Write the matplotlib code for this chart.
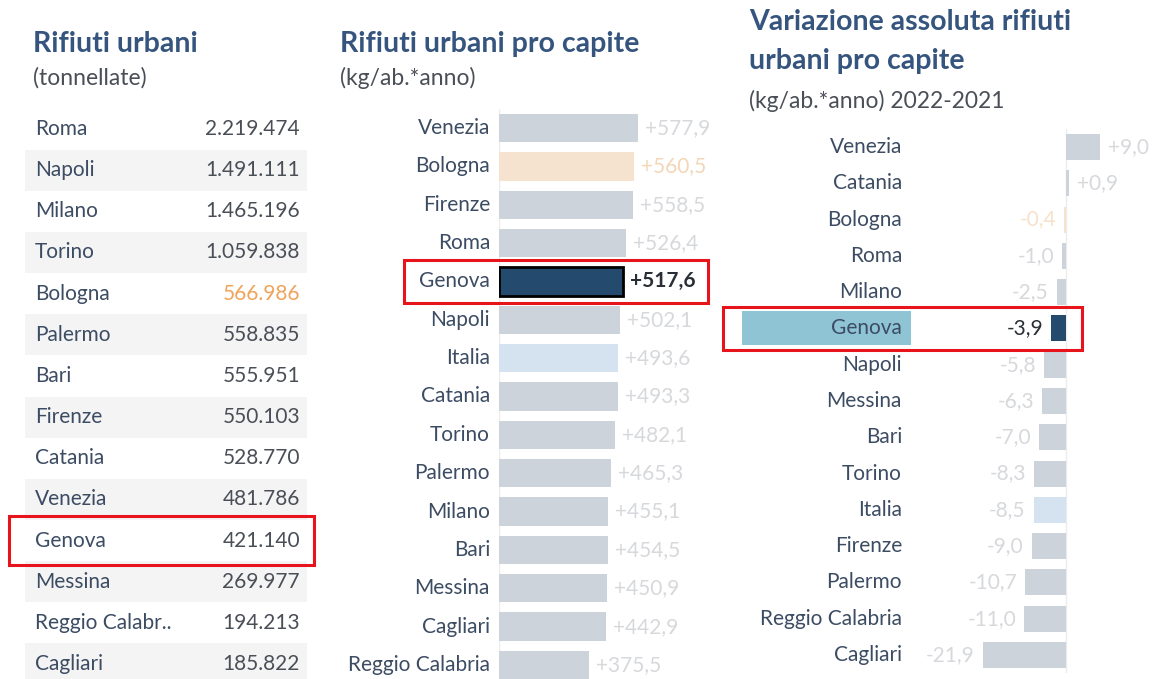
"""
Rifiuti urbani: tonnellate, pro capite e variazione 2022-2021 per citta'.
Three Tableau-like panels, Genova highlighted with a red box.
"""

import matplotlib
matplotlib.use("Agg")
import matplotlib.pyplot as plt
import matplotlib.transforms as mtransforms
from matplotlib.patches import Rectangle

plt.rcParams["font.family"] = ["Lato", "DejaVu Sans"]

W, H = 1152, 679

# panel 1 - tonnellate
CITIES_T = ["Roma", "Napoli", "Milano", "Torino", "Bologna", "Palermo", "Bari",
            "Firenze", "Catania", "Venezia", "Genova", "Messina",
            "Reggio Calabr..", "Cagliari"]
TONNES = [2219474, 1491111, 1465196, 1059838, 566986, 558835, 555951,
          550103, 528770, 481786, 421140, 269977, 194213, 185822]

# panel 2 - kg/ab.*anno
CITIES_PC = ["Venezia", "Bologna", "Firenze", "Roma", "Genova", "Napoli",
             "Italia", "Catania", "Torino", "Palermo", "Milano", "Bari",
             "Messina", "Cagliari", "Reggio Calabria"]
PRO_CAPITE = [577.9, 560.5, 558.5, 526.4, 517.6, 502.1, 493.6, 493.3,
              482.1, 465.3, 455.1, 454.5, 450.9, 442.9, 375.5]

# panel 3 - variazione assoluta 2022-2021
CITIES_VAR = ["Venezia", "Catania", "Bologna", "Roma", "Milano", "Genova",
              "Napoli", "Messina", "Bari", "Torino", "Italia", "Firenze",
              "Palermo", "Reggio Calabria", "Cagliari"]
VARIAZIONE = [9.0, 0.9, -0.4, -1.0, -2.5, -3.9, -5.8, -6.3, -7.0, -8.3,
              -8.5, -9.0, -10.7, -11.0, -21.9]

TITLE_C = "#36557e"
SUB_C = "#4a4f57"
NAME_C = "#3c4c63"
BAR_C = "#cdd3da"
VAL_C = "#d6d8db"
HL_NAVY = "#244a6e"
RED = "#e8141b"

FS_TITLE = 20.5
FS_SUB = 16.5
FS = 15


def px_axes(fig, x0, x1, y0, y1):
    """axes from pixel box (y measured from top)."""
    return fig.add_axes([x0 / W, 1 - y1 / H, (x1 - x0) / W, (y1 - y0) / H])


def fmt_thousands(v):
    return f"{v:,}".replace(",", ".")


def fmt_signed(v):
    return f"{v:+.1f}".replace(".", ",")


def bar_color(name):
    return {"Genova": HL_NAVY, "Bologna": "#f6e3cf", "Italia": "#d4e3ef"}.get(name, BAR_C)


def main():
    fig = plt.figure(figsize=(W / 100, H / 100), dpi=100)
    fig.patch.set_facecolor("white")

    # ---------- titles
    title_kw = dict(fontsize=FS_TITLE, fontweight="bold", color=TITLE_C, va="center")
    sub_kw = dict(fontsize=FS_SUB, color=SUB_C, va="center")
    fig.text(33 / W, 1 - 44 / H, "Rifiuti urbani", **title_kw)
    fig.text(33 / W, 1 - 78 / H, "(tonnellate)", **sub_kw)
    fig.text(340 / W, 1 - 44 / H, "Rifiuti urbani pro capite", **title_kw)
    fig.text(340 / W, 1 - 78 / H, "(kg/ab.*anno)", **sub_kw)
    fig.text(749 / W, 1 - 22 / H, "Variazione assoluta rifiuti", **title_kw)
    fig.text(749 / W, 1 - 61 / H, "urbani pro capite", **title_kw)
    fig.text(749 / W, 1 - 101 / H, "(kg/ab.*anno) 2022-2021", **sub_kw)

    # ---------- panel 1: table
    n1 = len(CITIES_T)
    ax1 = px_axes(fig, 25, 307, 108.4, 684.6)
    ax1.set_xlim(0, 1)
    ax1.set_ylim(n1 - 0.5, -0.5)
    ax1.set_axis_off()
    for i, (name, v) in enumerate(zip(CITIES_T, TONNES)):
        if i % 2 == 1:
            ax1.axhspan(i - 0.5, i + 0.5, color="#f4f4f4", lw=0, zorder=0)
        ax1.text(10 / 282, i, name, fontsize=FS, color=NAME_C, va="center", ha="left")
        vc = "#f0a35a" if name == "Bologna" else "#4a4f57"
        ax1.text(275 / 282, i, fmt_thousands(v), fontsize=FS, color=vc,
                 va="center", ha="right")
    gi = CITIES_T.index("Genova")
    tr1 = mtransforms.blended_transform_factory(fig.transFigure, ax1.transData)
    fig.add_artist(Rectangle((9 / W, gi - 0.6), 305 / W, 1.2, transform=tr1,
                             fill=False, ec=RED, lw=2.2))

    # ---------- panel 2: pro capite bars
    n2 = len(CITIES_PC)
    scale2 = 0.2405  # px per kg
    ax2 = px_axes(fig, 499, 720, 108.8, 684.2)
    ax2.set_xlim(0, 221 / scale2)
    ax2.set_ylim(n2 - 0.5, -0.5)
    ax2.set_axis_off()
    ax2.axvline(0, color="#ececec", lw=1, zorder=0)
    for i, (name, v) in enumerate(zip(CITIES_PC, PRO_CAPITE)):
        hl = name == "Genova"
        ax2.barh(i, v, height=0.74, color=bar_color(name),
                 edgecolor="black" if hl else "none", linewidth=2 if hl else 0)
        if hl:
            vc, fw = "#2a2f36", "bold"
        elif name == "Bologna":
            vc, fw = "#f3d6b8", "normal"
        else:
            vc, fw = VAL_C, "normal"
        ax2.text(v + 7 / scale2, i, fmt_signed(v), fontsize=FS, color=vc,
                 fontweight=fw, va="center", ha="left")
    tr2 = mtransforms.blended_transform_factory(fig.transFigure, ax2.transData)
    for i, name in enumerate(CITIES_PC):
        ax2.text(490 / W, i, name, transform=tr2, fontsize=FS, color=NAME_C,
                 va="center", ha="right")
    gi = CITIES_PC.index("Genova")
    fig.add_artist(Rectangle((404 / W, gi - 0.56), 304 / W, 1.12, transform=tr2,
                             fill=False, ec=RED, lw=2.2))

    # ---------- panel 3: variazione
    n3 = len(CITIES_VAR)
    scale3 = 3.8  # px per kg
    zero_px = 1066
    ax3 = px_axes(fig, 920, 1150, 128.85, 673.15)
    ax3.set_xlim(-(zero_px - 920) / scale3, (1150 - zero_px) / scale3)
    ax3.set_ylim(n3 - 0.5, -0.5)
    ax3.set_axis_off()
    ax3.axvline(0, color="#ececec", lw=1, zorder=0)
    tr3 = mtransforms.blended_transform_factory(fig.transFigure, ax3.transData)
    gi = CITIES_VAR.index("Genova")
    fig.add_artist(Rectangle((742 / W, gi - 0.47), 169 / W, 0.94, transform=tr3,
                             color="#8ec4d4", lw=0, zorder=0))
    for i, (name, v) in enumerate(zip(CITIES_VAR, VARIAZIONE)):
        hl = name == "Genova"
        ax3.barh(i, v, height=0.72, color=bar_color(name))
        if hl:
            vc = "#2a2f36"
        elif name == "Bologna":
            vc = "#f6e1cb"
        else:
            vc = VAL_C
        off = 8 / scale3
        if v >= 0:
            ax3.text(v + off, i, fmt_signed(v), fontsize=FS, color=vc,
                     va="center", ha="left")
        else:
            ax3.text(v - off, i, fmt_signed(v), fontsize=FS, color=vc,
                     va="center", ha="right")
        ax3.text(902 / W, i, name, transform=tr3, fontsize=FS, color=NAME_C,
                 va="center", ha="right")
    fig.add_artist(Rectangle((723 / W, gi - 0.59), 359 / W, 1.18, transform=tr3,
                             fill=False, ec=RED, lw=2.2))

    fig.savefig("out.png", dpi=100, facecolor="white")
    plt.close(fig)


if __name__ == "__main__":
    main()
